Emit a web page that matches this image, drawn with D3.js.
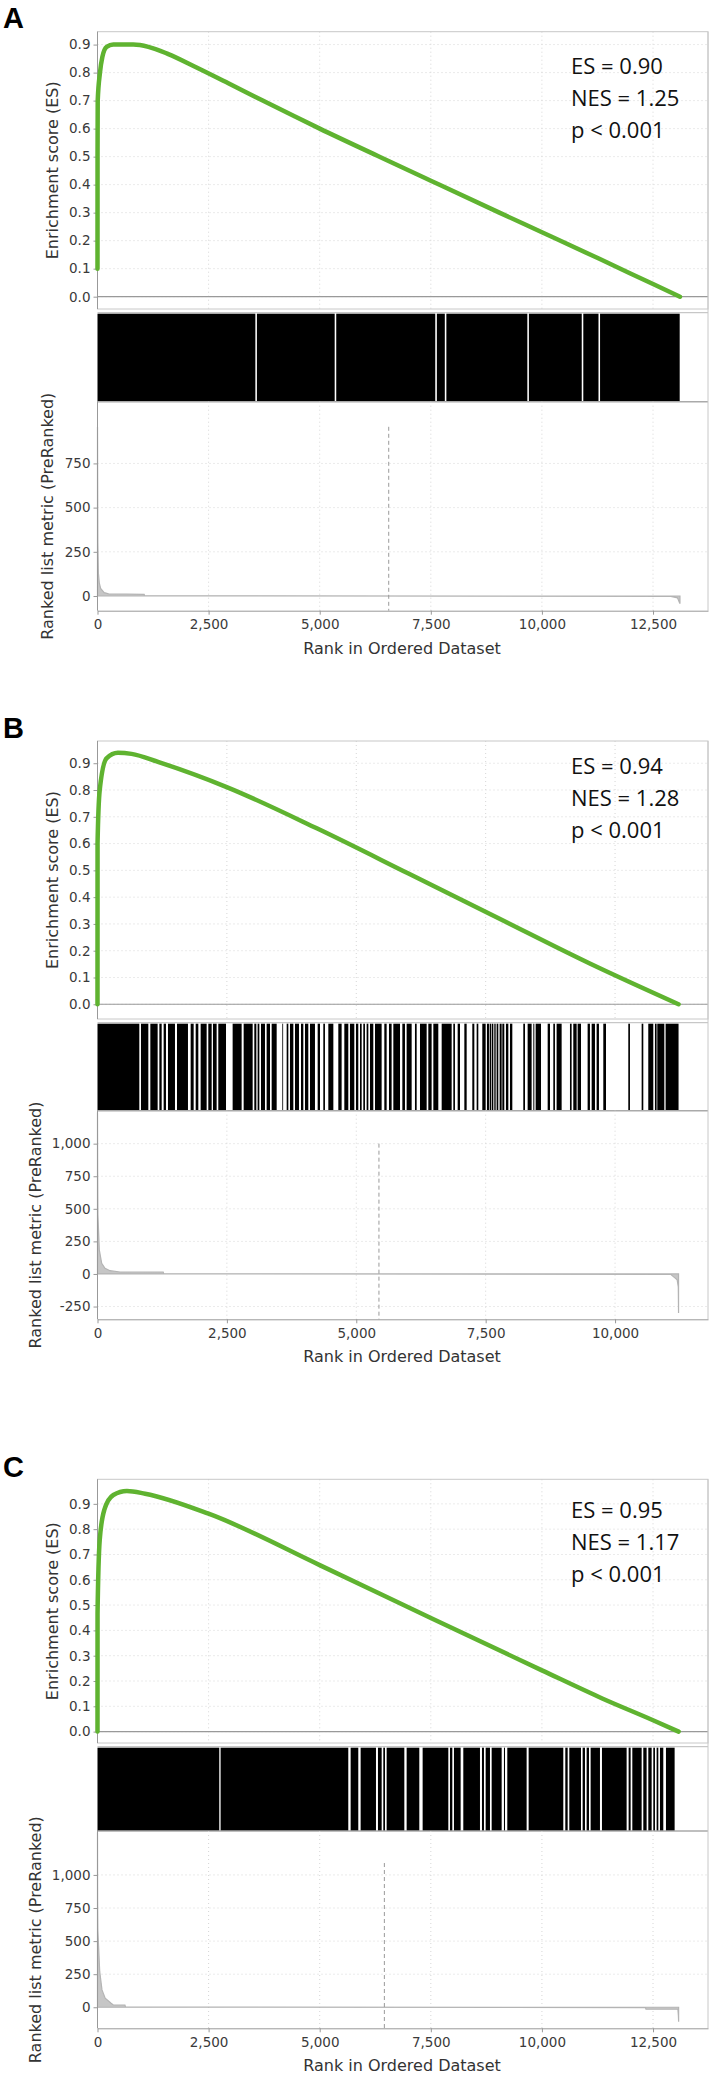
<!DOCTYPE html>
<html>
<head>
<meta charset="utf-8">
<script src="https://cdn.jsdelivr.net/npm/d3@7"></script>
<style>
body { margin: 0; background: #fff; }
svg text { font-family: "DejaVu Sans", sans-serif; }
</style>
</head>
<body>
<svg id="chart" width="709" height="2074"></svg>
<script>
// ---- data ----
var panelNames = ["A", "B", "C"];
var esLabels = ["ES = 0.90", "ES = 0.94", "ES = 0.95"];
var nesLabels = ["NES = 1.25", "NES = 1.28", "NES = 1.17"];
var pLabels = ["p < 0.001", "p < 0.001", "p < 0.001"];

var rankMax = [13737, 11796, 13737];
var zeroCross = [6553, 5438, 6455];
var dashTop = [957, 1000, 1090];

var rankTicks = [
	[0, 2500, 5000, 7500, 10000, 12500],
	[0, 2500, 5000, 7500, 10000],
	[0, 2500, 5000, 7500, 10000, 12500]
];
var esTicks = [0, 0.1, 0.2, 0.3, 0.4, 0.5, 0.6, 0.7, 0.8, 0.9];
var esDomains = [[-0.044, 0.946], [-0.055, 0.983], [-0.045, 0.997]];
var metricTicks = [
	[0, 250, 500, 750],
	[-250, 0, 250, 500, 750, 1000],
	[0, 250, 500, 750, 1000]
];
var metricDomains = [[-83, 1099], [-348, 1253], [-159, 1332]];

// running enrichment score, [rank, ES]
var esCurveA = [[0,0.10],[1,0.50],[5,0.70],[56,0.80],[109,0.856],[206,0.892],[356,0.90],[806,0.90],
	[1144,0.892],[1594,0.866],[2194,0.821],[2944,0.762],[3694,0.702],[4444,0.643],[5000,0.600],
	[6380,0.497],[7500,0.414],[9030,0.301],[10000,0.230],[11280,0.136],[12500,0.045],[13106,0.0]];
var esCurveB = [[0,0.0],[1,0.60],[43,0.80],[174,0.918],[394,0.939],[657,0.935],[1182,0.904],
	[2496,0.811],[4247,0.656],[5999,0.489],[7749,0.321],[9502,0.153],[11227,0.0]];
var esCurveC = [[0,0.0],[1,0.467],[50,0.757],[153,0.876],[356,0.935],[662,0.951],[1071,0.940],
	[2498,0.861],[5000,0.658],[7500,0.449],[10000,0.242],[11370,0.130],[12500,0.045],[13076,0.0]];

// ranked list metric, [rank, value]
var metricA = [[0,957],[8,300],[20,130],[40,75],[70,43],[150,19],[250,12],[1050,9],[1060,2],
	[12900,-2],[13050,-10],[13100,-41],[13106,-41]];
var metricB = [[0,1240],[3,800],[8,454],[35,185],[81,82],[145,44],[241,25],[435,15],[1270,14],
	[1280,2],[11080,-4],[11150,-28],[11200,-45],[11222,-100],[11227,-300]];
var metricC = [[0,1320],[3,800],[8,584],[50,269],[101,131],[173,68],[306,30],[356,17],[617,17],
	[630,2],[12330,-2],[12341,-15],[13060,-15],[13070,-60],[13076,-110]];

// gene set hits, black runs [startRank, endRank]
var hitsA = [[0,3552],[3587,5337],[5372,7600],[7636,7815],[7850,9672],[9707,10896],[10931,11273],[11308,13100]];
var hitsB = [[0,808],[840,982],[1021,1162],[1195,1240],[1278,1323],[1362,1497],[1536,1748],[1800,1858],
	[1897,1948],[1993,2109],[2141,2206],[2231,2302],[2334,2483],[2611,2785],[2824,2998],[3030,3069],
	[3094,3127],[3159,3236],[3268,3333],[3365,3462],[3571,3584],[3655,3687],[3719,3784],[3816,3893],
	[3932,3977],[4009,4073],[4106,4202],[4254,4299],[4363,4395],[4460,4557],[4653,4717],[4769,4846],
	[4878,4962],[4994,5039],[5072,5104],[5136,5168],[5200,5233],[5265,5329],[5362,5490],[5542,5587],
	[5632,5683],[5716,5845],[5890,5941],[5973,6070],[6134,6167],[6231,6360],[6392,6456],[6489,6585],
	[6650,6843],[6875,6907],[6959,7004],[7088,7133],[7242,7281],[7326,7358],[7435,7500],[7525,7564],
	[7577,7603],[7616,7648],[7667,7693],[7712,7744],[7770,7809],[7822,7860],[7892,7938],[7970,8015],
	[8227,8260],[8311,8388],[8421,8440],[8466,8569],[8698,8743],[8807,8839],[8871,8968],[9129,9161],
	[9193,9258],[9277,9342],[9470,9515],[9548,9612],[9644,9689],[9773,9825],[10256,10288],[10514,10546],
	[10642,10739],[10771,10803],[10816,10952],[10977,11227]];
var hitsC = [[0,2740],[2770,5643],[5696,5868],[5921,6266],[6311,6394],[6431,6469],[6506,6904],[6956,7241],
	[7316,7894],[7931,7984],[8021,8171],[8231,8606],[8651,8696],[8734,8831],[8869,9094],[9146,9169],
	[9221,9656],[9701,10481],[10526,10579],[10616,10879],[10916,10969],[11006,11059],[11096,11306],
	[11351,11906],[11951,11996],[12034,12244],[12281,12356],[12394,12469],[12506,12544],[12581,12619],
	[12656,12731],[12791,12986]];

var esCurves = [esCurveA, esCurveB, esCurveC];
var metrics = [metricA, metricB, metricC];
var hits = [hitsA, hitsB, hitsC];

// ---- layout ----
var PLOT_LEFT = 97.5;
var PLOT_RIGHT = 708;
var layout = [
	{ label: 28.3, statY: 74, esTop: 31.7, esBottom: 309, stripTop: 312.7, stripBottom: 401.7, metricBottom: 610.7, metricTitleX: 47 },
	{ label: 738, statY: 774.3, esTop: 741, esBottom: 1019, stripTop: 1022.7, stripBottom: 1110.7, metricBottom: 1319.3, metricTitleX: 35 },
	{ label: 1476.7, statY: 1517.7, esTop: 1479.3, esBottom: 1743, stripTop: 1746.7, stripBottom: 1831, metricBottom: 2028.3, metricTitleX: 35 }
];

var GREEN = "#5fb330";
var svg = d3.select("#chart");

function fmtNum(d) {
	return d3.format(",")(d).replace("\u2212", "-");
}

function styleAxis(g) {
	g.select(".domain").attr("stroke", "#999");
	g.selectAll(".tick line").attr("stroke", "#999");
	g.selectAll(".tick text")
		.attr("fill", "#3a3a3a")
		.style("font-size", "13.5px");
}

function drawPanel(i) {
	var L = layout[i];
	var g = svg.append("g");

	var x = d3.scaleLinear().domain([0, rankMax[i]]).range([PLOT_LEFT, PLOT_RIGHT]);
	var yEs = d3.scaleLinear().domain(esDomains[i]).range([L.esBottom, L.esTop]);
	var yMet = d3.scaleLinear().domain(metricDomains[i]).range([L.metricBottom, L.stripBottom]);

	// panel letter
	g.append("text")
		.attr("x", 3).attr("y", L.label)
		.style("font-family", "'Liberation Sans', Arial, sans-serif")
		.style("font-weight", "bold").style("font-size", "29px")
		.text(panelNames[i]);

	// ---- enrichment score plot ----
	var esGrid = g.append("g").attr("stroke", "#d6d6d6").attr("stroke-dasharray", "1,3");
	esGrid.selectAll("line.h").data(esTicks).enter().append("line")
		.attr("x1", PLOT_LEFT).attr("x2", PLOT_RIGHT)
		.attr("y1", function(d) { return yEs(d); }).attr("y2", function(d) { return yEs(d); });
	esGrid.selectAll("line.v").data(rankTicks[i].slice(1)).enter().append("line")
		.attr("x1", function(d) { return x(d); }).attr("x2", function(d) { return x(d); })
		.attr("y1", L.esTop).attr("y2", L.esBottom);

	g.append("rect")
		.attr("x", PLOT_LEFT).attr("y", L.esTop)
		.attr("width", PLOT_RIGHT - PLOT_LEFT).attr("height", L.esBottom - L.esTop)
		.attr("fill", "none").attr("stroke", "#c8c8c8");

	g.append("line")
		.attr("x1", PLOT_LEFT).attr("x2", PLOT_RIGHT)
		.attr("y1", yEs(0)).attr("y2", yEs(0))
		.attr("stroke", "#999").attr("stroke-width", 1.2);

	var esAxis = g.append("g")
		.attr("transform", "translate(" + PLOT_LEFT + ",0)")
		.call(d3.axisLeft(yEs).tickValues(esTicks).tickFormat(d3.format(".1f")).tickSize(4).tickPadding(3));
	esAxis.select(".domain").remove();
	styleAxis(esAxis);
	g.append("line")
		.attr("x1", PLOT_LEFT).attr("x2", PLOT_LEFT)
		.attr("y1", L.esTop).attr("y2", L.esBottom)
		.attr("stroke", "#999");

	var esLine = d3.line()
		.curve(d3.curveMonotoneX)
		.x(function(d) { return x(d[0]); })
		.y(function(d) { return yEs(d[1]); });
	g.append("path")
		.datum(esCurves[i])
		.attr("d", esLine)
		.attr("fill", "none")
		.attr("stroke", GREEN)
		.attr("stroke-width", 4.5)
		.attr("stroke-linejoin", "round")
		.attr("stroke-linecap", "round");

	g.append("text")
		.attr("transform", "translate(52," + (L.esTop + L.esBottom) / 2 + ") rotate(-90)")
		.attr("text-anchor", "middle").attr("dy", "0.35em")
		.attr("fill", "#333").style("font-size", "16px")
		.text("Enrichment score (ES)");

	var stats = [esLabels[i], nesLabels[i], pLabels[i]];
	g.selectAll("text.stat").data(stats).enter().append("text")
		.attr("x", 571)
		.attr("y", function(d, k) { return L.statY + k * 32; })
		.style("font-family", "'Open Sans', sans-serif")
		.style("font-size", "22px")
		.attr("fill", "#111")
		.text(function(d) { return d; });

	// ---- hit strip ----
	g.append("line")
		.attr("x1", PLOT_LEFT).attr("x2", PLOT_RIGHT)
		.attr("y1", L.stripTop).attr("y2", L.stripTop)
		.attr("stroke", "#bbb");
	g.selectAll("rect.hit").data(hits[i]).enter().append("rect")
		.attr("x", function(d) { return x(d[0]); })
		.attr("width", function(d) { return Math.max(0.8, x(d[1]) - x(d[0])); })
		.attr("y", L.stripTop + 1)
		.attr("height", L.stripBottom - L.stripTop - 1)
		.attr("fill", "#000");
	g.append("line")
		.attr("x1", PLOT_LEFT).attr("x2", PLOT_RIGHT)
		.attr("y1", L.stripBottom).attr("y2", L.stripBottom)
		.attr("stroke", "#aaa").attr("stroke-width", 1.5);

	// ---- ranked list metric plot ----
	var mGrid = g.append("g").attr("stroke", "#d6d6d6").attr("stroke-dasharray", "1,3");
	mGrid.selectAll("line.h").data(metricTicks[i].filter(function(d) { return d !== 0; })).enter().append("line")
		.attr("x1", PLOT_LEFT).attr("x2", PLOT_RIGHT)
		.attr("y1", function(d) { return yMet(d); }).attr("y2", function(d) { return yMet(d); });
	mGrid.selectAll("line.v").data(rankTicks[i].slice(1)).enter().append("line")
		.attr("x1", function(d) { return x(d); }).attr("x2", function(d) { return x(d); })
		.attr("y1", L.stripBottom).attr("y2", L.metricBottom);

	g.append("line")
		.attr("x1", PLOT_RIGHT).attr("x2", PLOT_RIGHT)
		.attr("y1", L.esTop).attr("y2", L.metricBottom)
		.attr("stroke", "#c8c8c8");

	var area = d3.area()
		.x(function(d) { return x(d[0]); })
		.y0(yMet(0))
		.y1(function(d) { return yMet(d[1]); });
	g.append("path")
		.datum(metrics[i])
		.attr("d", area)
		.attr("fill", "#c6c6c6")
		.attr("stroke", "#b4b4b4")
		.attr("stroke-width", 1.2);

	g.append("line")
		.attr("x1", x(zeroCross[i])).attr("x2", x(zeroCross[i]))
		.attr("y1", yMet(dashTop[i])).attr("y2", L.metricBottom)
		.attr("stroke", "#999").attr("stroke-dasharray", "4,3");

	var mAxis = g.append("g")
		.attr("transform", "translate(" + PLOT_LEFT + ",0)")
		.call(d3.axisLeft(yMet).tickValues(metricTicks[i]).tickFormat(fmtNum).tickSize(4).tickPadding(3));
	mAxis.select(".domain").remove();
	styleAxis(mAxis);
	g.append("line")
		.attr("x1", PLOT_LEFT).attr("x2", PLOT_LEFT)
		.attr("y1", L.stripBottom).attr("y2", L.metricBottom)
		.attr("stroke", "#999");

	var xAxis = g.append("g")
		.attr("transform", "translate(0," + L.metricBottom + ")")
		.call(d3.axisBottom(x).tickValues(rankTicks[i]).tickFormat(fmtNum).tickSize(4).tickPadding(5).tickSizeOuter(0));
	styleAxis(xAxis);

	g.append("text")
		.attr("x", 402).attr("y", L.metricBottom + 43)
		.attr("text-anchor", "middle")
		.attr("fill", "#333").style("font-size", "16px")
		.text("Rank in Ordered Dataset");

	g.append("text")
		.attr("transform", "translate(" + L.metricTitleX + "," + ((L.stripBottom + L.metricBottom) / 2 + 10) + ") rotate(-90)")
		.attr("text-anchor", "middle").attr("dy", "0.35em")
		.attr("fill", "#333").style("font-size", "16px")
		.text("Ranked list metric (PreRanked)");
}

for (var i = 0; i < panelNames.length; i++) {
	drawPanel(i);
}
</script>
</body>
</html>
